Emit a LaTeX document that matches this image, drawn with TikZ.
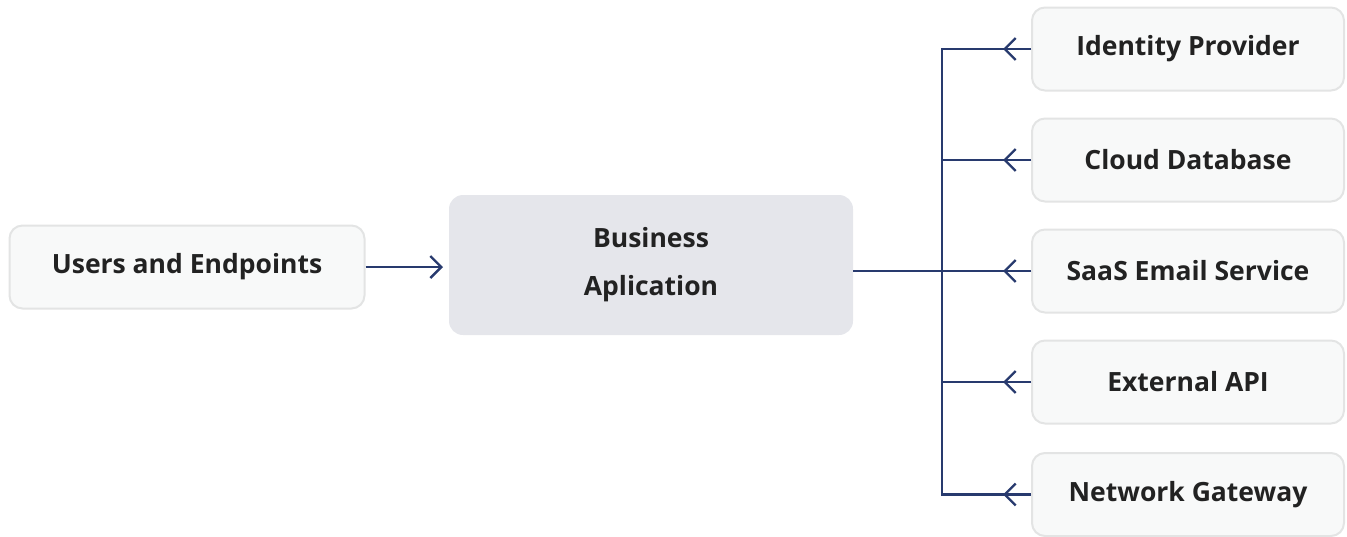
\documentclass[tikz,border=0pt]{standalone}
\usepackage{fontspec}
\setmainfont{Open Sans}
\usetikzlibrary{arrows.meta}
\definecolor{linkblue}{HTML}{283A6E}
\definecolor{boxfill}{HTML}{F8F9F9}
\definecolor{boxedge}{HTML}{E3E4E4}
\definecolor{corefill}{HTML}{E5E6EB}
\definecolor{inktext}{HTML}{222222}
\tikzset{
  svcbox/.style={draw=boxedge, line width=2pt, fill=boxfill, rounded corners=13pt,
    minimum width=312pt, minimum height=83pt, font=\bfseries\fontsize{26.5}{30}\selectfont,
    text=inktext, inner sep=0pt},
  corebox/.style={fill=corefill, rounded corners=14pt, minimum width=404pt,
    minimum height=140pt, font=\bfseries\fontsize{26.5}{48}\selectfont, text=inktext,
    align=center, inner sep=0pt},
  link/.style={draw=linkblue, line width=2.4pt},
  chev/.style={-{Straight Barb[length=11pt,width=22pt,line width=2.4pt]}}
}
\begin{document}
\begin{tikzpicture}[x=1pt,y=-1pt]
\useasboundingbox (0,0) rectangle (1347,536);
\node[svcbox, minimum width=355pt] (users) at (187,267) {Users and Endpoints};
\node[corebox] (app) at (651,265) {Business\\Aplication};
\node[svcbox] (idp) at (1188,49) {Identity Provider};
\node[svcbox] (db) at (1188,160) {Cloud Database};
\node[svcbox] (mail) at (1188,271) {SaaS Email Service};
\node[svcbox] (api) at (1188,382) {External API};
\node[svcbox] (gw) at (1188,494.5) {Network Gateway};
\coordinate (trunktop) at (942,49);
\coordinate (trunkbot) at (942,494.5);
% request flow into the application
\draw[link, chev] (users.east) -- (443,267);
% shared trunk: outer services joined through one path for clean corners
\draw[link] (idp.west) -- (trunktop) -- (trunkbot) -- (gw.west);
\draw[link] (app.east |- mail.west) -- (mail.west -| trunktop);
\foreach \s in {db,mail,api}{
  \draw[link] (\s.west) -- (\s.west -| trunktop);
}
\foreach \s in {idp,db,mail,api,gw}{
  \draw[link, chev] (\s.west) -- ++(-28,0);
}
\end{tikzpicture}
\end{document}
